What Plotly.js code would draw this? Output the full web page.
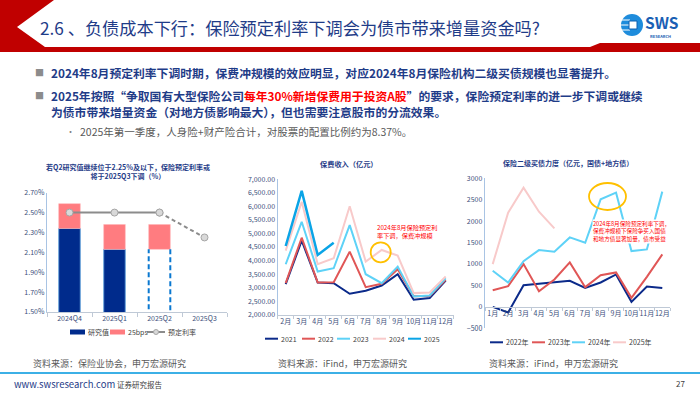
<!DOCTYPE html>
<html><head><meta charset="utf-8">
<script src="https://cdn.plot.ly/plotly-3.0.1.min.js"></script>
<style>html,body{margin:0;padding:0;background:#fff;overflow:hidden;} #chart{width:700px;height:394px;}</style>
</head><body><div id="chart"></div>
<script>
// ---------- Chart 1: 研究值 / 25bps / 预定利率 ----------
const qCategories = ['2024Q4', '2025Q1', '2025Q2', '2025Q3'];
const researchValue = [2.34, 2.13, null, null];
const q2ScenarioValue = [null, null, 2.13, null];
const bpsCushion = [0.25, 0.25, 0.25, null];
const presetRate = [2.50, 2.50, 2.50, null];
const presetRateOutlook = [null, null, 2.50, 2.25];

// ---------- Chart 2: 保费收入（亿元） ----------
const premiumMonths = ['2月', '3月', '4月', '5月', '6月', '7月', '8月', '9月', '10月', '11月', '12月'];
const premium2021 = [3127, 4733, 3189, 3164, 2772, 2882, 3078, 3495, 2551, 2613, 3262];
const premium2022 = [3164, 4843, 3189, 3200, 4328, 3017, 3140, 3680, 2680, 2690, 3290];
const premium2023 = [3863, 5431, 3593, 3716, 5309, 3495, 3164, 3777, 2674, 2710, 3348];
const premium2024 = [4365, 6167, 3863, 4083, 6007, 3961, 4390, 4181, 2797, 2821, 3409];
const premium2025 = [4537, 6571, 4206, 4659];

// ---------- Chart 3: 保险二级买债力度（亿元，国债+地方债） ----------
const bondMonths = ['1月', '2月', '3月', '4月', '5月', '6月', '7月', '8月', '9月', '10月', '11月', '12月'];
const bond2022 = [0, -132, 507, 545, 585, 608, 444, 569, 756, 117, 477, 438];
const bond2023 = [390, 483, 998, 366, 639, 1037, 460, 740, 803, 210, 700, 1224];
const bond2024 = [842, 569, 1068, 1325, 1286, 1621, 1496, 2510, 2665, 1302, 1340, 2689];
const bond2025 = [998, 2198, 2782, 2221, 1832];

// ---------- helpers ----------
const W = 700, H = 394;
const px = x => x / W;
const py = y => 1 - y / H;
const FONT = 'Noto Sans CJK SC, Noto Sans, sans-serif';
const NAVY = '#1F3C88';
const TICK = '#3B4E7A';
const YLINE = '#A9C4E4';
const XLINE = '#BFC9D6';

const qIdx = qCategories.map((_, i) => i);
const barW = 0.48;
const stackBase = researchValue.map((v, i) => v !== null ? v : q2ScenarioValue[i]);

// dashed outline for the hypothetical Q2 research bar
const outX = [], outY = [];
q2ScenarioValue.forEach((v, i) => {
  if (v === null) return;
  outX.push(i - barW / 2, i - barW / 2, null, i + barW / 2, i + barW / 2);
  outY.push(0, v, null, v, 0);
});

const C = {navy: '#0B2A8A', red: '#E05656', cyan: '#5ED2F7', pink: '#F8CACA', blue: '#0AA4E6'};

const traces = [
  {type: 'bar', x: qIdx, y: researchValue, width: barW, name: '研究值',
   marker: {color: '#002B8C', line: {color: '#6FA8DC', width: 1}}, xaxis: 'x', yaxis: 'y'},
  {type: 'bar', x: qIdx, y: bpsCushion, base: stackBase, width: barW, name: '25bps',
   marker: {color: '#FF7C80', line: {color: '#FFB3B5', width: 0.5}}, xaxis: 'x', yaxis: 'y'},
  {type: 'scatter', mode: 'lines', x: outX, y: outY, name: 'Q2情景',
   line: {color: '#0A78D0', width: 2, dash: '5px,3px'}, xaxis: 'x', yaxis: 'y'},
  {type: 'scatter', mode: 'lines+markers', x: qIdx, y: presetRate, name: '预定利率',
   line: {color: '#8C8C8C', width: 2}, marker: {symbol: 'circle', size: 7, color: '#D9D9D9', line: {color: '#A6A6A6', width: 1}},
   xaxis: 'x', yaxis: 'y'},
  {type: 'scatter', mode: 'lines+markers', x: qIdx, y: presetRateOutlook, name: '预定利率(预期)',
   line: {color: '#8C8C8C', width: 2, dash: '4px,3px'}, marker: {symbol: 'circle', size: 7, color: '#D9D9D9', line: {color: '#A6A6A6', width: 1}},
   xaxis: 'x', yaxis: 'y'},

  {type: 'scatter', mode: 'lines', x: premiumMonths, y: premium2021, name: '2021', line: {color: C.navy, width: 2}, xaxis: 'x2', yaxis: 'y2'},
  {type: 'scatter', mode: 'lines', x: premiumMonths, y: premium2022, name: '2022', line: {color: C.red, width: 2}, xaxis: 'x2', yaxis: 'y2'},
  {type: 'scatter', mode: 'lines', x: premiumMonths, y: premium2023, name: '2023', line: {color: C.cyan, width: 2}, xaxis: 'x2', yaxis: 'y2'},
  {type: 'scatter', mode: 'lines', x: premiumMonths, y: premium2024, name: '2024', line: {color: C.pink, width: 2}, xaxis: 'x2', yaxis: 'y2'},
  {type: 'scatter', mode: 'lines', x: premiumMonths.slice(0, premium2025.length), y: premium2025, name: '2025', line: {color: C.blue, width: 2.5}, xaxis: 'x2', yaxis: 'y2'},

  {type: 'scatter', mode: 'lines', x: bondMonths, y: bond2022, name: '2022年', line: {color: C.navy, width: 2}, xaxis: 'x3', yaxis: 'y3'},
  {type: 'scatter', mode: 'lines', x: bondMonths, y: bond2023, name: '2023年', line: {color: C.red, width: 2}, xaxis: 'x3', yaxis: 'y3'},
  {type: 'scatter', mode: 'lines', x: bondMonths, y: bond2024, name: '2024年', line: {color: C.cyan, width: 2}, xaxis: 'x3', yaxis: 'y3'},
  {type: 'scatter', mode: 'lines', x: bondMonths.slice(0, bond2025.length), y: bond2025, name: '2025年', line: {color: C.pink, width: 2}, xaxis: 'x3', yaxis: 'y3'}
];
traces.forEach(t => { t.showlegend = false; });

const tickFont = {family: FONT, size: 7, color: TICK};

function pathFrom(points) {
  return points.map((p, i) => (i ? 'L' : 'M') + px(p[0]).toFixed(5) + ',' + py(p[1]).toFixed(5)).join(' ') + ' Z';
}

const ann = (x, y, text, size, color, opts) => Object.assign({
  xref: 'paper', yref: 'paper', x: px(x), y: py(y), text: text, showarrow: false,
  xanchor: 'left', yanchor: 'middle', align: 'left', font: {family: FONT, size: size, color: color}
}, opts || {});

const annotations = [
  ann(38, 28, '2.6 、负债成本下行：保险预定利率下调会为债市带来增量资金吗?', 17.2, NAVY),
  ann(33, 73, '■', 9, '#8C8C8C'),
  ann(49, 73, '<b>2024年8月预定利率下调时期，保费冲规模的效应明显，对应2024年8月保险机构二级买债规模也显著提升。</b>', 11.8, NAVY),
  ann(33, 95, '■', 9, '#8C8C8C'),
  ann(49, 95, '<b>2025年按照“争取国有大型保险公司<span style="color:#FF0000">每年30%新增保费用于投资A股</span>”的要求，保险预定利率的进一步下调或继续</b>', 11.8, NAVY),
  ann(49, 112, '<b>为债市带来增量资金（对地方债影响最大），但也需要注意股市的分流效果。</b>', 11.8, NAVY),
  ann(64, 131, '•', 9, '#7F7F7F'),
  ann(78, 131, '2025年第一季度，人身险+财产险合计，对股票的配置比例约为8.37%。', 10.5, '#595959'),

  ann(128, 171.5, '<b>若Q2研究值继续位于2.25%及以下，保险预定利率或<br>将于2025Q3下调（%）</b>', 7, NAVY, {xanchor: 'center', align: 'center'}),
  ann(349, 164, '<b>保费收入（亿元）</b>', 7.2, NAVY, {xanchor: 'center'}),
  ann(568, 163, '<b>保险二级买债力度（亿元，国债+地方债）</b>', 7, NAVY, {xanchor: 'center'}),

  ann(375, 231, '2024年8月保险预定利<br>率下调，保费冲规模', 6.2, '#FF0000'),
  ann(592, 231.5, '2024年8月保险预定利率下调，<br>保费冲规模下保险争买入国债<br>和地方债显著加量，债市受益', 5.6, '#FF0000',
      {bgcolor: '#FFFFFF', borderpad: 0}),

  ann(31, 363, '资料来源：保险业协会，申万宏源研究', 9, '#595959'),
  ann(276, 363, '资料来源：iFind，申万宏源研究', 9, '#595959'),
  ann(487, 363, '资料来源：iFind，申万宏源研究', 9, '#595959'),

  ann(12, 384, 'www.swsresearch.com', 9.5, NAVY),
  ann(115, 384, '证券研究报告', 7.5, '#404040'),
  ann(674, 383, '27', 8, '#404040'),

  ann(644, 21.5, '<b>SWS</b>', 15.5, '#1A5FB4', {borderpad: 0}),
  ann(649, 35.5, '<b>RESEARCH</b>', 4, '#1A5FB4', {borderpad: 0})
];

const shapes = [
  {type: 'path', xref: 'paper', yref: 'paper', fillcolor: '#C00000', line: {width: 0},
   path: pathFrom([[0, 0], [54, 0], [17, 27], [45, 47], [590, 47], [600, 43], [700, 43], [700, 52], [0, 52]])},
  {type: 'line', xref: 'paper', yref: 'paper', x0: 0, x1: 1, y0: py(373), y1: py(373), line: {color: '#3CB0E6', width: 2}},
  // logo icon
  {type: 'circle', xref: 'paper', yref: 'paper', x0: px(621), x1: px(643), y0: py(36), y1: py(14), fillcolor: '#1E8CDC', line: {width: 0}},
  {type: 'line', xref: 'paper', yref: 'paper', x0: px(620), x1: px(630), y0: py(20), y1: py(20), line: {color: '#FFFFFF', width: 1}},
  {type: 'line', xref: 'paper', yref: 'paper', x0: px(620), x1: px(630), y0: py(25), y1: py(25), line: {color: '#FFFFFF', width: 1}},
  {type: 'line', xref: 'paper', yref: 'paper', x0: px(620), x1: px(630), y0: py(30), y1: py(30), line: {color: '#FFFFFF', width: 1}},
  {type: 'rect', xref: 'paper', yref: 'paper', x0: px(629), x1: px(637), y0: py(29), y1: py(21), fillcolor: '#FFFFFF', line: {color: '#0D5FB0', width: 1}},
  // highlight rings
  {type: 'circle', xref: 'paper', yref: 'paper', x0: px(370.7), x1: px(390.7), y0: py(262.3), y1: py(242.3), line: {color: '#FFC000', width: 1.8}},
  {type: 'circle', xref: 'paper', yref: 'paper', x0: px(589), x1: px(626), y0: py(210), y1: py(183), line: {color: '#FFC000', width: 1.8}}
];

// ---------- legends (keys taken from the traces) ----------
const legendFont = 7, legendColor = '#404040';
function legendKey(trace, kind, x, y, len) {
  if (kind === 'rect') {
    shapes.push({type: 'rect', xref: 'paper', yref: 'paper', x0: px(x), x1: px(x + len), y0: py(y + 2.5), y1: py(y - 2.5),
      fillcolor: trace.marker.color, line: {width: 0}});
  } else {
    shapes.push({type: 'line', xref: 'paper', yref: 'paper', x0: px(x), x1: px(x + len), y0: py(y), y1: py(y),
      line: {color: trace.line.color, width: 2}});
    if (kind === 'linemarker') {
      const cx = x + len / 2;
      shapes.push({type: 'circle', xref: 'paper', yref: 'paper', x0: px(cx - 2.5), x1: px(cx + 2.5), y0: py(y + 2.5), y1: py(y - 2.5),
        fillcolor: trace.marker.color, line: {color: trace.marker.line.color, width: 1}});
    }
  }
  annotations.push(ann(x + len + 1, y, trace.name, legendFont, legendColor));
}
legendKey(traces[0], 'rect', 70, 332, 15);
legendKey(traces[1], 'rect', 110, 332, 15);
legendKey(traces[3], 'linemarker', 147, 332, 18);
[265, 302, 337, 373, 408].forEach((x, i) => legendKey(traces[5 + i], 'line', x, 338.7, 13));
[490, 532, 572, 613].forEach((x, i) => legendKey(traces[10 + i], 'line', x, 342.3, 13));

const layout = {
  width: W, height: H, margin: {l: 0, r: 0, t: 0, b: 0, pad: 0, autoexpand: false},
  paper_bgcolor: '#FFFFFF', plot_bgcolor: '#FFFFFF',
  showlegend: false, hovermode: false, barmode: 'overlay',
  font: {family: FONT},
  xaxis: {domain: [px(47), px(227)], anchor: 'y', range: [-0.5, 3.5], tickmode: 'array', tickvals: qIdx, ticktext: qCategories,
    ticks: '', tickangle: 0, showgrid: false, zeroline: false, showline: true, linecolor: XLINE, linewidth: 1, tickfont: tickFont,
    minor: {tickmode: 'array', tickvals: [-0.5, 0.5, 1.5, 2.5, 3.5], ticks: 'outside', ticklen: 4, tickcolor: XLINE, showgrid: false}},
  yaxis: {domain: [py(312), py(192.7)], anchor: 'x', range: [1.5, 2.7], tickmode: 'linear', tick0: 1.5, dtick: 0.2,
    tickformat: '.2f', ticksuffix: '%', showgrid: false, zeroline: false, showline: true, linecolor: YLINE, linewidth: 1.2, tickfont: tickFont, ticks: ''},

  xaxis2: {domain: [px(277.7), px(453.7)], anchor: 'y2', type: 'category', categoryorder: 'array', categoryarray: premiumMonths,
    range: [-0.5, premiumMonths.length - 0.5], tickson: 'boundaries', ticks: 'outside', ticklen: 3, tickcolor: XLINE, tickangle: 0,
    showgrid: false, zeroline: false, showline: true, linecolor: XLINE, tickfont: Object.assign({}, tickFont, {size: 7})},
  yaxis2: {domain: [py(314.7), py(179.3)], anchor: 'x2', range: [2000, 7000], tickmode: 'linear', tick0: 2000, dtick: 500,
    tickformat: ',.2f', showgrid: false, zeroline: false, showline: true, linecolor: YLINE, linewidth: 1.2, tickfont: tickFont, ticks: ''},

  xaxis3: {domain: [px(485), px(670)], anchor: 'free', position: py(306.9), type: 'category', categoryorder: 'array', categoryarray: bondMonths,
    range: [-0.5, bondMonths.length - 0.5], tickson: 'boundaries', ticks: 'outside', ticklen: 3, tickcolor: XLINE, tickangle: 0,
    showgrid: false, zeroline: false, showline: true, linecolor: XLINE, tickfont: Object.assign({}, tickFont, {size: 7})},
  yaxis3: {domain: [py(328.3), py(178.3)], anchor: 'x3', range: [-500, 3000], tickmode: 'linear', tick0: -500, dtick: 500,
    showgrid: false, zeroline: false, showline: true, linecolor: YLINE, linewidth: 1.2, tickfont: tickFont, ticks: ''},

  annotations: annotations,
  shapes: shapes
};

Plotly.newPlot('chart', traces, layout, {displayModeBar: false, staticPlot: true});
</script>
</body></html>
